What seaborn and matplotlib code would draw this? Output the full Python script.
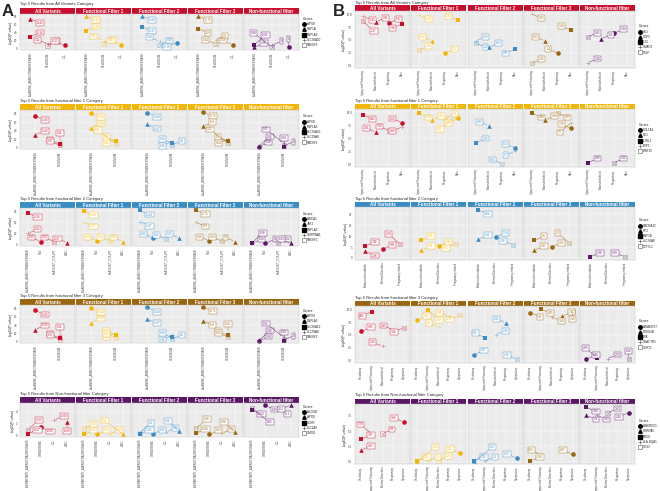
import numpy as np
import pandas as pd
import matplotlib
matplotlib.use("Agg")
import matplotlib.pyplot as plt
from matplotlib.lines import Line2D
import seaborn as sns

sns.set_style("white")
plt.rcParams["font.family"] = ["Liberation Sans", "DejaVu Sans"]

FACETS = ["All Variants", "Functional Filter 1", "Functional Filter 2",
          "Functional Filter 3", "Non-functional filter"]
COLORS = ["#C8102E", "#F2B705", "#3A8DC4", "#9A6710", "#5C1666"]
ROW_TITLES = ["Top 5 Results from All Variants Category",
              "Top 5 Results from functional filter 1 Category",
              "Top 5 Results from functional filter 2 Category",
              "Top 5 Results from functional filter 3 Category",
              "Top 5 Results from Non-functional filter Category"]
nan = np.nan

# ---------------- panel A ----------------
A1_cats = ["ALANINE_AMINOTRANSFERASE", "SELENIUM", "LDL"]
A1_genes = ["APOE", "HNF1A", "PNPLA3", "SLC30A10", "TM6SF2"]
A1_xi = [0, 0, 1, 1, 2]
A1_gi = [1, 2, 3, 4, 0]
A1_vals = [[75, 30, 12, 8, 8], [82, 45, 20, 12, 10], [82, 55, 18, 10, 15],
           [82, 50, 22, 12, 10], [3, 10, 8, 5, 3]]
A1_labs = [["-4.43", "-0.16", "0.11", "0.1", "-0.35"], ["-0.44", "-0.28", "0.11", "0.12", "0.09"],
           ["-0.44", "-0.47", "0.18", "0.16", "-0.16"], ["-0.75", "-0.8", "0.1", "0.14", "-0.06"],
           ["0.08", "-0.05", "0", "0.18", "0"]]
A1_ticks = [0, 20, 40, 60, 80]

A2_cats = ["ALANINE_AMINOTRANSFERASE", "SELENIUM"]
A2_genes = ["APOE", "PNPLA3", "SLC30A10", "SLC39A8", "TM6SF2"]
A2_xi = [0, 0, 1, 1, 1]
A2_gi = [0, 1, 2, 3, 4]
A2_vals = [[75, 30, 8, 14, 5], [82, 47, 15, 20, 8], [83, 55, 10, 14, 6],
           [84, 50, 15, 20, 10], [2, 3, 2, 10, 4]]
A2_labs = [["-0.45", "-0.43", "0.1", "0.11", "0.07"], ["-0.44", "-0.28", "0.13", "0.11", "0.12"],
           ["-0.44", "-0.47", "0.18", "0.16", "0.2"], ["-0.75", "-0.8", "0.1", "0.14", "0.13"],
           ["0.08", "0.06", "0.04", "0.05", "0"]]
A2_ticks = [0, 20, 40, 60, 80]

A3_cats = ["ALANINE_AMINOTRANSFERASE", "HDL", "PLATELET_COUNT", "WBC"]
A3_genes = ["ABCA1", "JAK2", "PNPLA3", "SERPINA1", "TM6SF2"]
A3_xi = [0, 0, 1, 2, 3]
A3_gi = [2, 3, 0, 4, 1]
A3_vals = [[85, 30, 8, 8, 5], [90, 60, 10, 10, 8], [92, 62, 18, 15, 18],
           [93, 60, 10, 9, 8], [3, 5, 3, 4, 3]]
A3_labs = [["-0.26", "0.15", "0.05", "0.02", "-0.07"], ["-0.44", "-0.27", "0.04", "0.04", "0.06"],
           ["-0.44", "-0.47", "0.12", "0.12", "0.15"], ["-0.75", "-0.8", "0.08", "0.09", "0.1"],
           ["0.08", "0.08", "0", "0.02", "0.03"]]
A3_ticks = [0, 30, 60, 90]

A4_cats = ["ALANINE_AMINOTRANSFERASE", "SELENIUM"]
A4_genes = ["APOE", "PNPLA3", "SLC30A10", "SLC39A8", "TM6SF2"]
A4_xi = [0, 0, 1, 1, 1]
A4_gi = [0, 1, 2, 3, 4]
A4_vals = [[76, 29, 8, 15, 5], [82, 46, 16, 21, 9], [83, 55, 10, 15, 6],
           [84, 50, 15, 22, 11], [2, 3, 2, 10, 4]]
A4_labs = [["-0.45", "-0.43", "0.1", "0.11", "0.07"], ["-0.44", "-0.28", "0.13", "0.11", "0.12"],
           ["-0.44", "-0.47", "0.18", "0.16", "0.2"], ["-0.75", "-0.8", "0.1", "0.14", "0.13"],
           ["0.08", "0.06", "0.04", "0.05", "0"]]
A4_ticks = [0, 20, 40, 60, 80]

A5_cats = ["ASPARTATE_AMINOTRANSFERASE", "CREATININE", "LDL", "WBC"]
A5_genes = ["ALDOB", "APOE", "GCKR", "SLC2A9", "UMOD"]
A5_xi = [0, 0, 1, 2, 3]
A5_gi = [2, 4, 0, 3, 1]
A5_vals = [[0.3, 1.0, 1.4, 2.6, 2.2], [0.2, 1.2, 0.2, 0.3, 0.2], [0.3, 0.5, 0.3, 0.6, 0.8],
           [0.4, 1.2, 0.2, 0.4, 0.6], [4.3, 4.5, 5.0, 4.3, 5.1]]
A5_labs = [["-0.07", "-0.05", "-0.06", "-0.09", "-0.09"], ["0.05", "0.06", "0.05", "0.05", "0.02"],
           ["-0.05", "0.1", "0.05", "0.19", "0.06"], ["-0.08", "0.08", "0.03", "0.05", "0.08"],
           ["-0.63", "0.25", "0.09", "-0.1", "-0.2"]]
A5_ticks = [0, 2, 4]

# ---------------- panel B ----------------
B1_cats = ["Injury and Poisoning", "Musculoskeletal", "Respiratory", "Skin"]
B1_genes = ["FLG", "GDF5", "IL33", "SMAD3", "TSLP"]
B1_xi = [0, 0, 1, 2, 3]
B1_gi = [3, 4, 1, 0, 2]
B1_vals = [[9.6, 8.6, 8.5, 8.3, 8.1], [9.8, 3.0, 4.8, 2.4, 8.8], [4.8, 4.4, 3.6, nan, 3.2],
           [10.0, 0.5, 4.8, 2.4, 6.9], [0.6, 5.6, 5.2, 6.3, nan]]
B1_labs = [["5.45", "2.17", "3.81", "5.47", "3.38"], ["1.16", "2.06", "2.62", "1.1", "1.93"],
           ["2.65", "2.4", "1.63", "", "2.01"], ["4.72", "2.35", "1.93", "1.4", "3.14"],
           ["2.38", "2.85", "2.4", "3.14", ""]]
B1_ticks = [0.0, 2.5, 5.0, 7.5, 10.0]

B2_cats = ["Injury and Poisoning", "Musculoskeletal", "Respiratory", "Skin"]
B2_genes = ["COL1A1", "FLG", "IL1RL1", "LRP5", "WNT16"]
B2_xi = [0, 1, 2, 3, 3]
B2_gi = [2, 1, 4, 0, 3]
B2_vals = [[9.5, 6.2, 6.5, 8.0, 7.2], [9.8, 8.5, 8.8, 8.8, 9.5], [4.2, 7.4, 0.2, 3.2, 2.6],
           [9.8, 8.5, 9.8, 6.9, 8.0], [0.4, nan, 0.4, nan, nan]]
B2_labs = [["4.92", "2.81", "3.12", "3.66", "2.68"], ["5.19", "2.85", "3.5", "3.03", "4.01"],
           ["2.45", "2.83", "1.81", "1.54", "1.7"], ["4.98", "3.08", "4.29", "3.78", "3.5"],
           ["2.82", "", "3.12", "", ""]]
B2_ticks = [0.0, 2.5, 5.0, 7.5, 10.0]

B3_cats = ["Endocrine/metabolic", "Mental Disorders", "Pregnancy related"]
B3_genes = ["CACNA1C", "FTO", "HNF1B", "SLC30A8", "TCF7L2"]
B3_xi = [0, 0, 1, 2]
B3_gi = [2, 1, 0, 4]
B3_vals = [[5.5, 3.0, 4.0, 6.5], [8.0, 3.5, 5.5, 6.5], [22.0, 8.5, 9.5, 6.0],
           [8.0, 3.5, 5.0, 7.0], [0.5, nan, nan, 0.5]]
B3_labs = [["3.46", "2.96", "3.81", "2.79"], ["2.95", "2.01", "3.08", "2.92"],
           ["4.66", "2.91", "3.74", "2.38"], ["3.6", "2.47", "3.61", "2.7"],
           ["2.38", "", "", "3.09"]]
B3_ticks = [0, 5, 10, 15, 20]

B4_cats = ["Circulatory", "Injury and Poisoning", "Musculoskeletal", "Respiratory", "Symptoms"]
B4_genes = ["ADAMTS7", "CDKN2B", "LPA", "PHACTR1", "SORT1"]
B4_xi = [0, 1, 2, 3, 4]
B4_gi = [0, 2, 3, 1, 4]
B4_vals = [[5.7, 9.5, 2.8, 6.0, 6.4], [7.9, 9.8, 6.5, 8.5, 8.8], [1.2, 4.5, 5.0, 7.3, 0.3],
           [9.3, 10.0, 8.5, 8.6, 9.7], [0.3, 0.6, 0.4, nan, 0.3]]
B4_labs = [["3.85", "4.95", "2.35", "2.85", "3.16"], ["3.25", "4.29", "3.2", "3.21", "2.79"],
           ["2.27", "3.35", "2.42", "2.81", "2.76"], ["4.3", "4.35", "3.28", "3.46", "3.18"],
           ["2.98", "2.85", "2.59", "", "2.66"]]
B4_ticks = [0.0, 2.5, 5.0, 7.5, 10.0]

B5_cats = ["Circulatory", "Injury and Poisoning", "Mental Disorders", "Respiratory", "Symptoms"]
B5_genes = ["ANKRD55", "CHRNA5", "DRD2", "HLA-DQA1", "SOX5"]
B5_xi = [0, 0, 1, 2, 4]
B5_gi = [2, 1, 3, 4, 0]
B5_vals = [[3.7, 1.9, 4.5, 4.6, 6.5], [0.1, 0.1, 0.1, 0.2, 1.4], [0.1, 0.1, 0.1, nan, 0.6],
           [0.1, nan, 1.2, nan, 1.2], [8.9, 7.6, 7.6, 8.0, 8.0]]
B5_labs = [["3.37", "2.87", "3.78", "2.8", "3.66"], ["2.25", "2.09", "2.1", "2.23", "2.43"],
           ["2.45", "2.67", "2.1", "", "2.53"], ["2.18", "", "3.03", "", "2.87"],
           ["3.84", "3.4", "3.63", "3.63", "3.44"]]
B5_ticks = [0.0, 2.5, 5.0, 7.5]

ROWS_A = [(A1_cats, A1_genes, A1_xi, A1_gi, A1_vals, A1_labs, A1_ticks),
          (A2_cats, A2_genes, A2_xi, A2_gi, A2_vals, A2_labs, A2_ticks),
          (A3_cats, A3_genes, A3_xi, A3_gi, A3_vals, A3_labs, A3_ticks),
          (A4_cats, A4_genes, A4_xi, A4_gi, A4_vals, A4_labs, A4_ticks),
          (A5_cats, A5_genes, A5_xi, A5_gi, A5_vals, A5_labs, A5_ticks)]
ROWS_B = [(B1_cats, B1_genes, B1_xi, B1_gi, B1_vals, B1_labs, B1_ticks),
          (B2_cats, B2_genes, B2_xi, B2_gi, B2_vals, B2_labs, B2_ticks),
          (B3_cats, B3_genes, B3_xi, B3_gi, B3_vals, B3_labs, B3_ticks),
          (B4_cats, B4_genes, B4_xi, B4_gi, B4_vals, B4_labs, B4_ticks),
          (B5_cats, B5_genes, B5_xi, B5_gi, B5_vals, B5_labs, B5_ticks)]

# layout in pixels
W, H = 660, 491
A_LEFT = [20, 76, 132, 188, 244]
B_LEFT = [355, 411, 468, 524, 580]
FW = 55
# (title y, strip top, plot top, plot bottom)
A_Y = [(4, 8, 14, 50), (101, 104, 110, 149), (199, 202, 208, 246),
       (296, 299, 305, 343), (394, 397, 403, 437)]
B_Y = [(3, 5, 11, 68), (101, 104, 109, 167), (199, 202, 207, 260),
       (298, 301, 306, 363), (395, 399, 404, 464)]

MARKERS = ["o", "^", "s", "+", "boxed"]
# candidate label offsets (points), tried in order, a crude ggrepel stand-in
OFFSETS = [(-7, 3), (7, 3), (-7, -3), (7, -3), (-8, 7), (8, 7), (-8, -7), (8, -7),
           (0, 6), (0, -6), (-12, 0), (12, 0), (-13, 10), (13, 10), (-13, -10), (13, -10)]


def draw_points(ax, df, color):
    for g, sub in df.groupby("gene"):
        if MARKERS[g] == "boxed":
            sns.scatterplot(data=sub, x="xi", y="val", ax=ax, marker="s", s=9,
                            color=color, facecolor="none", edgecolor=color,
                            linewidth=0.4, alpha=0.45, legend=False)
            sns.scatterplot(data=sub, x="xi", y="val", ax=ax, marker="x", s=6,
                            color=color, linewidth=0.4, alpha=0.45, legend=False)
        elif MARKERS[g] == "+":
            sns.scatterplot(data=sub, x="xi", y="val", ax=ax, marker="+", s=12,
                            color=color, linewidth=0.5, alpha=0.45, legend=False)
        else:
            sns.scatterplot(data=sub, x="xi", y="val", ax=ax, marker=MARKERS[g], s=11,
                            color=color, edgecolor=color, linewidth=0, legend=False)


def place_labels(ax, df, color, axw_pt, axh_pt, xlim, ylim):
    placed = []
    for row in df.itertuples():
        px = (row.xi - xlim[0]) / (xlim[1] - xlim[0]) * axw_pt
        py = (row.val - ylim[0]) / (ylim[1] - ylim[0]) * axh_pt
        bw = len(row.lab) * 1.25 + 2.2
        bh = 3.8
        best = None
        for dx, dy in OFFSETS:
            cx, cy = px + dx, py + dy
            if cx - bw / 2 < 0.5 or cx + bw / 2 > axw_pt - 0.5:
                continue
            if cy - bh / 2 < 0.3 or cy + bh / 2 > axh_pt - 0.3:
                continue
            clash = any(abs(cx - qx) < (bw + qw) / 2 + 0.5 and abs(cy - qy) < (bh + qh) / 2 + 0.4
                        for qx, qy, qw, qh in placed)
            if not clash:
                best = (dx, dy)
                break
        if best is None:
            best = (-7, 3) if py < axh_pt / 2 else (-7, -3)
        placed.append((px + best[0], py + best[1], bw, bh))
        ax.annotate(row.lab, xy=(row.xi, row.val), xytext=best,
                    textcoords="offset points", fontsize=2.1, color=color,
                    ha="center", va="center",
                    bbox=dict(boxstyle="square,pad=0.3", fc="white", ec=color, lw=0.3),
                    arrowprops=dict(arrowstyle="-", color=color, lw=0.3,
                                    shrinkA=0, shrinkB=1.5))


def draw_panel(fig, rows, lefts, ys, leg_x):
    for r, (cats, genes, xi, gi, vals, labs, ticks) in enumerate(rows):
        ty, st, pt, pb = ys[r]
        fig.text(lefts[0] / W, 1 - ty / H, ROW_TITLES[r], fontsize=3, va="center")
        allv = np.array(vals, dtype=float)
        top = max(ticks[-1], np.nanmax(allv)) * 1.06
        bot = -0.04 * top
        for f in range(5):
            color = COLORS[f]
            strip = fig.add_axes([lefts[f] / W, 1 - pt / H, FW / W, (pt - st) / H])
            strip.set_facecolor(COLORS[r])
            strip.set_xticks([]); strip.set_yticks([])
            for sp in strip.spines.values():
                sp.set_visible(False)
            strip.text(0.5, 0.45, FACETS[f], color="white", fontsize=3.3,
                       fontweight="bold", ha="center", va="center",
                       transform=strip.transAxes)

            ax = fig.add_axes([lefts[f] / W, 1 - pb / H, FW / W, (pb - pt) / H])
            ax.set_facecolor("#EBEBEB")
            ax.grid(True, color="white", lw=0.35)
            ax.set_axisbelow(True)
            df = pd.DataFrame({"xi": xi, "val": vals[f], "gene": gi, "lab": labs[f]}).dropna()
            draw_points(ax, df, color)
            xlim = (-0.6, len(cats) - 0.4)
            ylim = (bot, top)
            ax.set_xlim(*xlim)
            ax.set_ylim(*ylim)
            place_labels(ax, df, color, FW * 0.72, (pb - pt) * 0.72, xlim, ylim)
            ax.set_xticks(range(len(cats)))
            ax.set_xticklabels(cats, rotation=90, fontsize=2.0, color="#444444")
            ax.set_yticks(ticks)
            if f == 0:
                ax.set_yticklabels([str(t) for t in ticks], fontsize=2.2, color="#444444")
                ax.set_ylabel("-log10(P-value)", fontsize=2.4, labelpad=1)
            else:
                ax.set_yticklabels([])
                ax.set_ylabel("")
            ax.set_xlabel("")
            ax.tick_params(length=1, width=0.3, pad=0.8, color="#666666")
            for sp in ax.spines.values():
                sp.set_color("#BBBBBB")
                sp.set_linewidth(0.3)

        handles = []
        for g, name in enumerate(genes):
            m = MARKERS[g]
            if m == "boxed":
                h = Line2D([], [], marker="s", mfc="none", mec="#555555", color="#555555",
                           ls="", markersize=2.5, mew=0.4)
            elif m == "+":
                h = Line2D([], [], marker="+", color="#555555", ls="", markersize=2.5, mew=0.4)
            else:
                h = Line2D([], [], marker=m, color="black", ls="", markersize=2.5)
            handles.append(h)
        cy = 1 - (pt + pb) / 2 / H
        fig.legend(handles, genes, loc="center left", bbox_to_anchor=(leg_x / W, cy),
                   fontsize=2.2, title="Genes", title_fontsize=2.5, frameon=False,
                   handlelength=0.8, handletextpad=0.4, labelspacing=0.4,
                   borderaxespad=0, alignment="left")


fig = plt.figure(figsize=(6.6, 4.91), dpi=100)
fig.patch.set_facecolor("white")
draw_panel(fig, ROWS_A, A_LEFT, A_Y, 302)
draw_panel(fig, ROWS_B, B_LEFT, B_Y, 638)
fig.text(2 / W, 1 - 11 / H, "A", fontsize=12, fontweight="bold", va="center")
fig.text(333 / W, 1 - 11 / H, "B", fontsize=12, fontweight="bold", va="center")

fig.savefig("out.png", dpi=100)
